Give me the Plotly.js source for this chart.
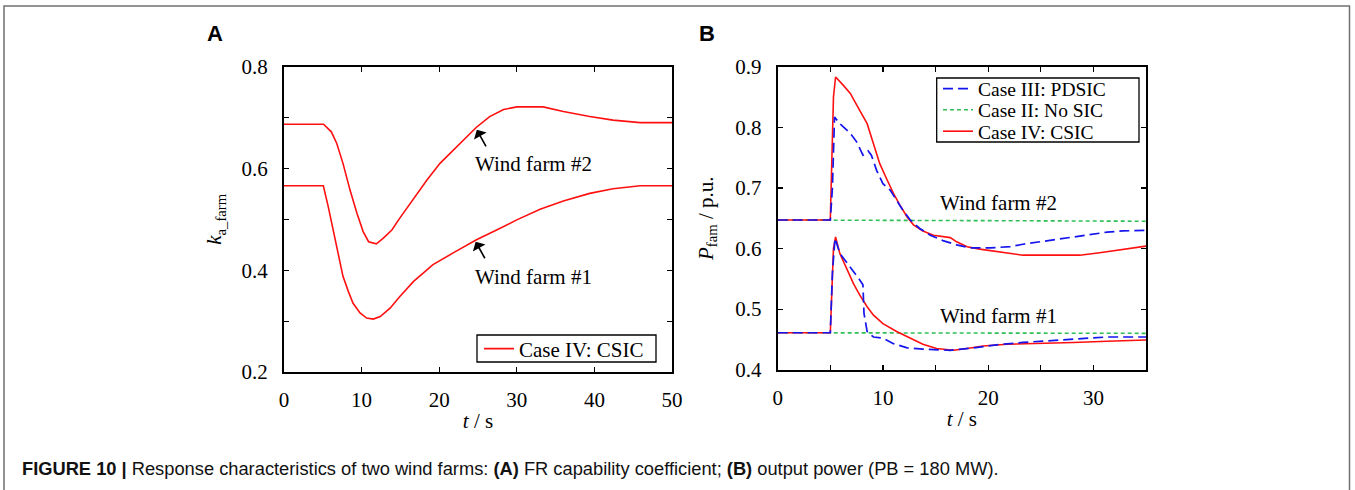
<!DOCTYPE html>
<html>
<head>
<meta charset="utf-8">
<script src="https://cdn.plot.ly/plotly-3.0.1.min.js"></script>
<style>html,body{margin:0;padding:0;background:#fff;}#chart{width:1355px;height:490px;}</style>
</head>
<body>
<div id="chart"></div>
<script>
// ---------- Panel A: FR capability coefficient k_a_farm ----------
const tA_wf2 = [0, 5.1, 6.1, 6.8, 7.6, 8.5, 9.4, 10.2, 10.9, 11.9, 12.8, 13.9, 14.9, 16.7, 18.4, 20.1, 21.8, 23.5, 24.8, 26.5, 28.3, 30, 33.4, 36, 39.4, 42.4, 45.9, 50];
const kA_wf2 = [0.687, 0.687, 0.672, 0.649, 0.610, 0.558, 0.512, 0.476, 0.456, 0.452, 0.463, 0.479, 0.502, 0.541, 0.577, 0.610, 0.636, 0.663, 0.681, 0.702, 0.716, 0.721, 0.721, 0.712, 0.702, 0.695, 0.690, 0.690];
const tA_wf1 = [0, 5.07, 5.7, 6.4, 7.0, 7.6, 8.3, 8.9, 9.8, 10.65, 11.5, 12.4, 13.7, 14.9, 16.7, 19.2, 21.8, 24.8, 27.4, 30, 33, 36, 39.4, 42.4, 45.9, 50];
const kA_wf1 = [0.566, 0.566, 0.525, 0.473, 0.427, 0.388, 0.358, 0.335, 0.316, 0.306, 0.304, 0.309, 0.326, 0.348, 0.378, 0.411, 0.434, 0.460, 0.479, 0.499, 0.520, 0.536, 0.551, 0.560, 0.566, 0.566];

// ---------- Panel B: output power P_fam ----------
const tB_csic_wf2 = [0, 5.0, 5.3, 5.5, 6.2, 6.9, 7.5, 8.5, 9.1, 9.7, 10.4, 11.0, 11.6, 12.3, 12.9, 13.8, 14.8, 16.4, 17.0, 18.0, 19.2, 20.8, 22.1, 23.3, 26.5, 28.7, 30.6, 32.8, 35];
const pB_csic_wf2 = [0.647, 0.647, 0.85, 0.883, 0.870, 0.856, 0.837, 0.806, 0.773, 0.740, 0.713, 0.691, 0.672, 0.652, 0.639, 0.629, 0.622, 0.618, 0.611, 0.603, 0.599, 0.595, 0.591, 0.589, 0.589, 0.589, 0.593, 0.599, 0.604];
const tB_pdsic_wf2 = [0, 5.0, 5.2, 5.4, 5.9, 6.9, 7.5, 8.1, 8.6, 8.9, 9.4, 10.0, 10.7, 11.3, 11.9, 12.6, 13.5, 14.5, 15.7, 17.0, 18.3, 20.2, 22.1, 23.3, 24.9, 26.5, 28.1, 29.7, 31.3, 32.8, 35];
const pB_pdsic_wf2 = [0.647, 0.647, 0.70, 0.817, 0.806, 0.790, 0.776, 0.754, 0.761, 0.754, 0.729, 0.707, 0.696, 0.680, 0.663, 0.647, 0.633, 0.622, 0.613, 0.606, 0.601, 0.601, 0.603, 0.607, 0.611, 0.615, 0.619, 0.622, 0.627, 0.629, 0.630];
const tB_nosic_wf2 = [0, 5.0, 5.3, 19, 35];
const pB_nosic_wf2 = [0.647, 0.647, 0.646, 0.646, 0.645];
const tB_csic_wf1 = [0, 5.0, 5.3, 5.5, 5.9, 6.6, 7.2, 7.8, 8.5, 9.1, 10.0, 11.3, 12.6, 13.8, 15.1, 16.7, 18.0, 19.5, 21.8, 24.9, 28.1, 31.3, 35];
const pB_csic_wf1 = [0.461, 0.461, 0.60, 0.619, 0.592, 0.564, 0.542, 0.523, 0.504, 0.490, 0.476, 0.463, 0.452, 0.442, 0.435, 0.432, 0.435, 0.439, 0.442, 0.443, 0.445, 0.447, 0.449];
const tB_pdsic_wf1 = [0, 5.0, 5.2, 5.45, 5.9, 6.6, 7.2, 7.8, 8.1, 8.2, 8.5, 9.1, 10.0, 11.0, 12.3, 13.8, 16.4, 18.6, 20.8, 23.3, 26.5, 29.7, 31.3, 35];
const pB_pdsic_wf1 = [0.461, 0.461, 0.56, 0.617, 0.592, 0.575, 0.562, 0.548, 0.540, 0.493, 0.463, 0.454, 0.452, 0.443, 0.436, 0.434, 0.432, 0.436, 0.441, 0.445, 0.449, 0.452, 0.454, 0.454];
const tB_nosic_wf1 = [0, 5.0, 5.5, 35];
const pB_nosic_wf1 = [0.461, 0.461, 0.460, 0.460];

// ---------- Labels / ticks ----------
const caseNames = ['Case III: PDSIC', 'Case II: No SIC', 'Case IV: CSIC'];
const farmLabels = ['Wind farm #1', 'Wind farm #2'];
const xTickA = [0, 10, 20, 30, 40, 50];
const yTickA = [0.2, 0.3, 0.4, 0.5, 0.6, 0.7, 0.8];
const yTickTextA = ['0.2', '', '0.4', '', '0.6', '', '0.8'];
const xTickB = [0, 5, 10, 15, 20, 25, 30, 35];
const xTickTextB = ['0', '', '10', '', '20', '', '30', ''];
const yTickB = [0.4, 0.5, 0.6, 0.7, 0.8, 0.9];

const RED = '#ff1010', BLUE = '#1515ee', GREEN = '#2fbf55';
const W = 1355, H = 490;
const px = v => v / W, py = v => 1 - v / H;

const serif = 'Liberation Serif, Times New Roman, serif';
const sans = 'Liberation Sans, Arial, sans-serif';
const FS = 21;

const traces = [
  {x: tA_wf2, y: kA_wf2, xaxis: 'x', yaxis: 'y', mode: 'lines', name: caseNames[2], line: {color: RED, width: 1.6}, legend: 'legend', showlegend: true},
  {x: tA_wf1, y: kA_wf1, xaxis: 'x', yaxis: 'y', mode: 'lines', name: caseNames[2], line: {color: RED, width: 1.6}, legend: 'legend', showlegend: false},

  {x: tB_nosic_wf2, y: pB_nosic_wf2, xaxis: 'x2', yaxis: 'y2', mode: 'lines', name: caseNames[1], line: {color: GREEN, width: 1.6, dash: '4px,3px'}, legend: 'legend3', showlegend: true},
  {x: tB_nosic_wf1, y: pB_nosic_wf1, xaxis: 'x2', yaxis: 'y2', mode: 'lines', name: caseNames[1], line: {color: GREEN, width: 1.6, dash: '4px,3px'}, legend: 'legend3', showlegend: false},
  {x: tB_csic_wf2, y: pB_csic_wf2, xaxis: 'x2', yaxis: 'y2', mode: 'lines', name: caseNames[2], line: {color: RED, width: 1.6}, legend: 'legend4', showlegend: true},
  {x: tB_csic_wf1, y: pB_csic_wf1, xaxis: 'x2', yaxis: 'y2', mode: 'lines', name: caseNames[2], line: {color: RED, width: 1.6}, legend: 'legend4', showlegend: false},
  {x: tB_pdsic_wf2, y: pB_pdsic_wf2, xaxis: 'x2', yaxis: 'y2', mode: 'lines', name: caseNames[0], line: {color: BLUE, width: 1.7, dash: '10px,5px'}, legend: 'legend2', showlegend: true},
  {x: tB_pdsic_wf1, y: pB_pdsic_wf1, xaxis: 'x2', yaxis: 'y2', mode: 'lines', name: caseNames[0], line: {color: BLUE, width: 1.7, dash: '10px,5px'}, legend: 'legend2', showlegend: false}
];

const axisCommon = {
  showline: true, linecolor: 'black', linewidth: 2, mirror: 'ticks',
  ticks: 'inside', ticklen: 5, tickwidth: 1.2, tickcolor: 'black',
  showgrid: false, zeroline: false, fixedrange: true,
  tickfont: {family: serif, size: FS, color: 'black'}
};

function legendAt(x, yc, fs) {
  return {
    x: px(x), y: py(yc), xanchor: 'left', yanchor: 'middle',
    bgcolor: 'rgba(0,0,0,0)', borderwidth: 0,
    font: {family: serif, size: fs, color: 'black'}, itemwidth: 30
  };
}

const layout = {
  width: W, height: H,
  margin: {l: 0, r: 0, t: 0, b: 0},
  paper_bgcolor: 'white', plot_bgcolor: 'white',
  font: {family: serif, size: FS, color: 'black'},
  xaxis: Object.assign({}, axisCommon, {
    domain: [px(284), px(672)], range: [0, 50], anchor: 'y',
    tickmode: 'array', tickvals: xTickA, ticktext: xTickA.map(String), ticklabelstandoff: 8,
    title: {text: '<i>t</i> / s', font: {family: serif, size: FS}, standoff: 2}
  }),
  yaxis: Object.assign({}, axisCommon, {
    domain: [py(372), py(66.7)], range: [0.2, 0.8], anchor: 'x',
    tickmode: 'array', tickvals: yTickA, ticktext: yTickTextA, ticklabelstandoff: 10,
    title: {text: '<i>k</i><sub>a_farm</sub>', font: {family: serif, size: FS}, standoff: 14}
  }),
  xaxis2: Object.assign({}, axisCommon, {
    domain: [px(777.7), px(1146)], range: [0, 35], anchor: 'y2',
    tickmode: 'array', tickvals: xTickB, ticktext: xTickTextB, ticklabelstandoff: 8,
    title: {text: '<i>t</i> / s', font: {family: serif, size: FS}, standoff: 2}
  }),
  yaxis2: Object.assign({}, axisCommon, {
    domain: [py(369.7), py(66.7)], range: [0.4, 0.9], anchor: 'x2',
    tickmode: 'array', tickvals: yTickB, ticktext: yTickB.map(v => v.toFixed(1)), ticklabelstandoff: 10,
    title: {text: '<i>P</i><sub>fam</sub> / p.u.', font: {family: serif, size: FS}, standoff: 16}
  }),
  legend: legendAt(479, 349, FS),
  legend2: legendAt(938, 89, 19.5),
  legend3: legendAt(938, 110, 19.5),
  legend4: legendAt(938, 131.5, 19.5),
  shapes: [
    {type: 'rect', xref: 'paper', yref: 'paper', x0: px(4), x1: px(1349.5), y0: -0.02, y1: py(6),
     line: {color: '#707070', width: 1.5}, fillcolor: 'rgba(0,0,0,0)', layer: 'below'},
    // legend frames
    {type: 'rect', xref: 'paper', yref: 'paper', x0: px(477), x1: px(656), y0: py(362), y1: py(335),
     line: {color: 'black', width: 1.3}, fillcolor: 'white', layer: 'above'},
    {type: 'rect', xref: 'paper', yref: 'paper', x0: px(936.7), x1: px(1139), y0: py(142), y1: py(78),
     line: {color: 'black', width: 1.3}, fillcolor: 'white', layer: 'above'}
  ],
  annotations: [
    // panel A labels
    {xref: 'x', yref: 'y', x: 24.4, y: 0.609, text: farmLabels[1], showarrow: false, xanchor: 'left', yanchor: 'middle', font: {family: serif, size: FS}},
    {xref: 'x', yref: 'y', x: 24.4, y: 0.386, text: farmLabels[0], showarrow: false, xanchor: 'left', yanchor: 'middle', font: {family: serif, size: FS}},
    {xref: 'x', yref: 'y', x: 24.85, y: 0.676, text: '', showarrow: true, ax: 10, ay: 18, arrowhead: 1, arrowsize: 1.5, arrowwidth: 1.6, arrowcolor: 'black'},
    {xref: 'x', yref: 'y', x: 24.7, y: 0.456, text: '', showarrow: true, ax: 10, ay: 18, arrowhead: 1, arrowsize: 1.5, arrowwidth: 1.6, arrowcolor: 'black'},
    // panel B labels
    {xref: 'x2', yref: 'y2', x: 15.23, y: 0.6756, text: farmLabels[1], showarrow: false, xanchor: 'left', yanchor: 'middle', font: {family: serif, size: FS}},
    {xref: 'x2', yref: 'y2', x: 15.23, y: 0.4886, text: farmLabels[0], showarrow: false, xanchor: 'left', yanchor: 'middle', font: {family: serif, size: FS}},
    // panel letters
    {xref: 'paper', yref: 'paper', x: px(205), y: py(34), text: '<b>A</b>', showarrow: false, xanchor: 'left', yanchor: 'middle', font: {family: sans, size: 22, color: 'black'}},
    {xref: 'paper', yref: 'paper', x: px(697), y: py(33), text: '<b>B</b>', showarrow: false, xanchor: 'left', yanchor: 'middle', font: {family: sans, size: 22, color: 'black'}},
    // caption
    {xref: 'paper', yref: 'paper', x: px(20), y: py(468), xanchor: 'left', yanchor: 'middle', showarrow: false,
     text: '<b>FIGURE 10 | </b>Response characteristics of two wind farms: <b>(A)</b> FR capability coefficient; <b>(B)</b> output power (PB = 180 MW).',
     font: {family: sans, size: 18.3, color: '#111'}}
  ]
};

Plotly.newPlot('chart', traces, layout, {staticPlot: true, displayModeBar: false, responsive: false});
</script>
</body>
</html>
